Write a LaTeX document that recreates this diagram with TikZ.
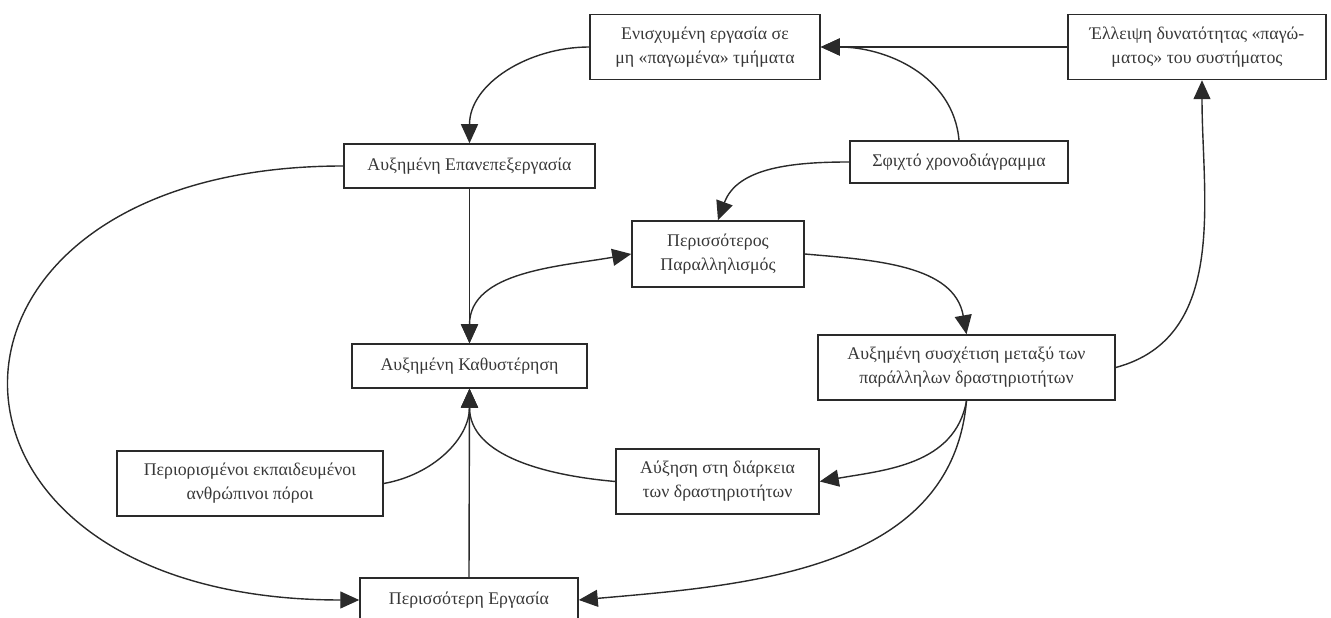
\documentclass[tikz,border=0pt]{standalone}
\usepackage{fontspec}
\setmainfont{Liberation Serif}
\usetikzlibrary{arrows.meta,calc}
\definecolor{inkline}{HTML}{2A2A2A}
\definecolor{inktext}{HTML}{383838}

\begin{document}
\begin{tikzpicture}[x=1pt,y=1pt]
  \useasboundingbox (0,0) rectangle (1331,618);
  \clip (0,0) rectangle (1331,618);
  \tikzset{
    box/.style={draw=inkline, line width=1.5pt, fill=white, align=center,
      inner sep=0pt, text=inktext, font=\fontsize{17.8}{24}\selectfont},
    tip/.style={Triangle[length=19pt,width=17pt]},
    link/.style={draw=inkline, line width=1.4pt, -{Triangle[length=19pt,width=17pt]}},
    twoway/.style={draw=inkline, line width=1.4pt,
      {Triangle[length=19pt,width=17pt]}-{Triangle[length=19pt,width=17pt]}}
  }

  % factors
  \node[box, minimum width=230pt, minimum height=65pt] (frozen) at (705,571)
    {Ενισχυμένη εργασία σε\\μη «παγωμένα» τμήματα};
  \node[box, minimum width=258pt, minimum height=65pt] (nofreeze) at (1197,571)
    {Έλλειψη δυνατότητας «παγώ-\\ματος» του συστήματος};
  \node[box, minimum width=251pt, minimum height=44pt] (rework) at (469.5,452)
    {Αυξημένη Επανεπεξεργασία};
  \node[box, minimum width=218pt, minimum height=42pt] (tight) at (959,456)
    {Σφιχτό χρονοδιάγραμμα};
  \node[box, minimum width=172pt, minimum height=66pt] (parallel) at (718,364)
    {Περισσότερος\\Παραλληλισμός};
  \node[box, minimum width=235pt, minimum height=44pt] (delay) at (469.5,252)
    {Αυξημένη Καθυστέρηση};
  \node[box, minimum width=297pt, minimum height=65pt] (coupling) at (966.5,250.5)
    {Αυξημένη συσχέτιση μεταξύ των\\παράλληλων δραστηριοτήτων};
  \node[box, minimum width=266pt, minimum height=65pt] (staff) at (250,134.5)
    {Περιορισμένοι εκπαιδευμένοι\\ανθρώπινοι πόροι};
  \node[box, minimum width=203pt, minimum height=65pt] (duration) at (717.5,136.5)
    {Αύξηση στη διάρκεια\\των δραστηριοτήτων};
  \node[box, minimum width=218pt, minimum height=44pt] (morework) at (469,18)
    {Περισσότερη Εργασία};

  % influences
  \draw[link] (nofreeze.west) -- (frozen.east);
  \draw[link] (tight.north) to[out=95,in=0] (frozen.east);
  \draw[link] (frozen.west) to[out=180,in=90] (rework.north);
  \draw[link] (tight.west) to[out=180,in=70] (parallel.north);
  \draw[link] (rework.south) -- (delay.north);
  \draw[twoway] (delay.north) to[out=90,in=190] (parallel.west);
  \draw[link] (parallel.east) to[out=-5,in=100] (coupling.north);
  \draw[link] (coupling.east) to[out=15,in=-90] ($(nofreeze.south)+(5,0)$);
  \draw[link] (coupling.south) to[out=-100,in=10] (duration.east);
  \draw[link] (coupling.south) to[out=-95,in=5] (morework.east);
  \draw[link] (duration.west) to[out=175,in=-90] (delay.south);
  \draw[link] (staff.east) to[out=10,in=-90] (delay.south);
  \draw[link] (morework.north) -- (delay.south);
  \draw[link] (rework.west) .. controls (-104,452) and (-104,18) .. (morework.west);
\end{tikzpicture}
\end{document}
